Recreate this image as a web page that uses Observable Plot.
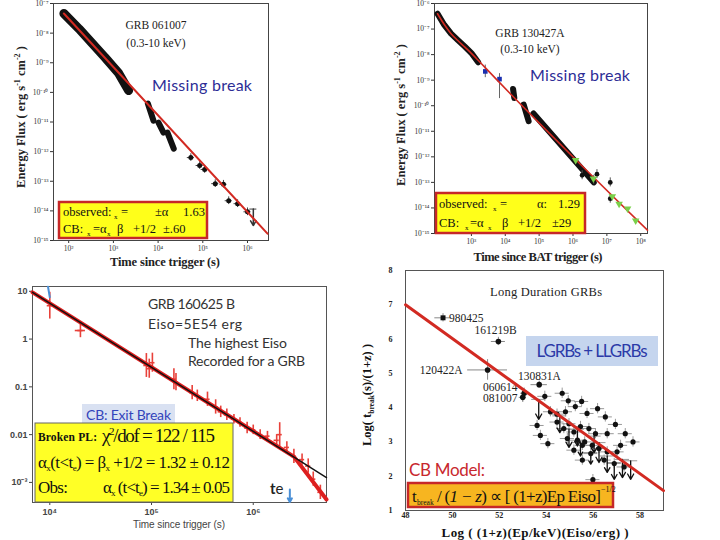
<!DOCTYPE html>
<html><head><meta charset="utf-8">
<script src="https://cdn.jsdelivr.net/npm/d3@7"></script>
<script src="https://cdn.jsdelivr.net/npm/@observablehq/plot@0.6"></script>
<style>
html,body{margin:0;padding:0;background:#fff;}
#wrap{position:relative;width:720px;height:540px;overflow:hidden;background:#fff;}
.panel{position:absolute;}
#overlay{position:absolute;left:0;top:0;z-index:5;pointer-events:none;}
.serif{font-family:"Liberation Serif","Times New Roman",serif;}
.sans{font-family:Lato,"Open Sans",sans-serif;}
</style></head>
<body>
<div id="wrap">
<div class="panel" id="pA" style="left:0;top:0"></div>
<div class="panel" id="pB" style="left:380px;top:0"></div>
<div class="panel" id="pC" style="left:0;top:270px"></div>
<div class="panel" id="pD" style="left:360px;top:260px"></div>
<svg id="overlay" width="720" height="540">
  <!-- Panel A : GRB 061007 -->
  <g class="serif" fill="#222">
    <text x="156" y="29" text-anchor="middle" font-size="11.5">GRB 061007</text>
    <text x="156" y="47" text-anchor="middle" font-size="11.5">(0.3-10 keV)</text>
    <text x="165" y="266" text-anchor="middle" font-size="12.5" font-weight="bold" textLength="110">Time since trigger (s)</text>
    <text transform="translate(25,117) rotate(-90)" text-anchor="middle" font-size="12.5" font-weight="bold">Energy Flux ( erg s<tspan dy="-5" font-size="8">-1</tspan><tspan dy="5"> cm</tspan><tspan dy="-5" font-size="8">-2</tspan><tspan dy="5"> )</tspan></text>
  </g>
  <text class="sans" x="152" y="91" font-size="16" fill="#2d2d96" textLength="100">Missing break</text>
  <rect x="59" y="202" width="148" height="36" fill="#ffff1a" stroke="#c62828" stroke-width="2.5"/>
  <g class="serif" font-size="12.5" fill="#111">
    <text x="63" y="216">observed:</text>
    <text x="114" y="219" font-size="7">x</text>
    <text x="121" y="216">=</text>
    <text x="155" y="216">±α</text>
    <text x="183" y="216">1.63</text>
    <text x="63" y="233">CB:</text>
    <text x="87" y="236" font-size="7">x</text>
    <text x="93" y="233">=α</text>
    <text x="107" y="236" font-size="7">x</text>
    <text x="117" y="233">β</text>
    <text x="133" y="233">+1/2</text>
    <text x="163" y="233">±.60</text>
  </g>

  <!-- Panel B : GRB 130427A -->
  <g class="serif" fill="#222">
    <text x="530" y="37" text-anchor="middle" font-size="11.5">GRB 130427A</text>
    <text x="530" y="53" text-anchor="middle" font-size="11.5">(0.3-10 keV)</text>
    <text x="538" y="261" text-anchor="middle" font-size="12.5" font-weight="bold" textLength="129">Time since BAT trigger (s)</text>
    <text transform="translate(405,115) rotate(-90)" text-anchor="middle" font-size="12.5" font-weight="bold">Energy Flux ( erg s<tspan dy="-5" font-size="8">-1</tspan><tspan dy="5"> cm</tspan><tspan dy="-5" font-size="8">-2</tspan><tspan dy="5"> )</tspan></text>
  </g>
  <text class="sans" x="530" y="81" font-size="16" fill="#2d2d96" textLength="100">Missing break</text>
  <rect x="436" y="193" width="149" height="40" fill="#ffff1a" stroke="#c62828" stroke-width="2.5"/>
  <g class="serif" font-size="12.5" fill="#111">
    <text x="439" y="208">observed:</text>
    <text x="493" y="211" font-size="7">x</text>
    <text x="500" y="208">=</text>
    <text x="537" y="208">α:</text>
    <text x="558" y="208">1.29</text>
    <text x="439" y="227">CB:</text>
    <text x="465" y="230" font-size="7">x</text>
    <text x="470" y="227">=α</text>
    <text x="488" y="230" font-size="7">x</text>
    <text x="502" y="227">β</text>
    <text x="518" y="227">+1/2</text>
    <text x="552" y="227">±29</text>
  </g>

  <!-- Panel C : GRB 160625B -->
  <g class="sans" fill="#333" font-size="14">
    <text x="148" y="309" textLength="87">GRB 160625 B</text>
    <text x="148" y="329" textLength="94">Eiso=5E54 erg</text>
    <text x="188" y="348" textLength="99">The highest Eiso</text>
    <text x="188" y="366" textLength="117">Recorded for a GRB</text>
  </g>
  <rect x="82" y="404" width="93" height="19" fill="#d9e1f2"/>
  <text class="sans" x="128.5" y="420" text-anchor="middle" font-size="14" fill="#3344bb" textLength="85">CB: Exit Break</text>
  <rect x="35" y="423" width="198" height="79" fill="#ffff26" stroke="#666" stroke-width="1"/>
  <g class="serif" fill="#111">
    <text x="38" y="441" font-size="11.5" font-weight="bold" textLength="59">Broken PL:</text>
    <text x="102" y="442" font-size="19" textLength="113">χ<tspan dy="-7" font-size="11">2</tspan><tspan dy="7">/dof = 122 / 115</tspan></text>
    <text x="38" y="468" font-size="17" textLength="192">α<tspan dy="3" font-size="9">x</tspan><tspan dy="-3">(t&lt;t</tspan><tspan dy="3" font-size="9">e</tspan><tspan dy="-3">) = β</tspan><tspan dy="3" font-size="9">x</tspan><tspan dy="-3"> +1/2 = 1.32 ± 0.12</tspan></text>
    <text x="38" y="493" font-size="17" textLength="30">Obs:</text>
    <text x="103" y="493" font-size="17" textLength="127">α<tspan dy="3" font-size="9">x</tspan><tspan dy="-3"> (t&lt;t</tspan><tspan dy="3" font-size="9">e</tspan><tspan dy="-3">) = 1.34 ± 0.05</tspan></text>
  </g>
  <text class="sans" x="270" y="494" font-size="15" fill="#222"><tspan font-weight="bold">t</tspan>e</text>
  <text x="179" y="528" text-anchor="middle" font-family="Liberation Sans, Arial, sans-serif" font-size="10" fill="#444" textLength="92">Time since trigger (s)</text>

  <!-- Panel D : Long duration GRBs -->
  <text class="serif" x="546" y="296" text-anchor="middle" font-size="12.5" fill="#222" textLength="112">Long Duration GRBs</text>
  <rect x="526" y="336" width="132" height="30" fill="#c5d5ee"/>
  <text class="sans" x="592" y="357" text-anchor="middle" font-size="17" fill="#2c3aa8" textLength="111">LGRBs + LLGRBs</text>
  <text class="sans" x="409" y="476" font-size="17" fill="#c8282e" textLength="76">CB Model:</text>
  <rect x="408" y="483" width="205" height="24" fill="#f7b520" stroke="#c62828" stroke-width="2.5"/>
  <g class="serif" fill="#111">
    <text x="412" y="502" font-size="17">t</text>
    <text x="417" y="505" font-size="7.5">break</text>
    <text x="437" y="502" font-size="17" textLength="164">/ (<tspan font-style="italic">1 − z</tspan>) ∝ [ (1+z)Ep Eiso]</text>
    <text x="601" y="492" font-size="8">−1/2</text>
  </g>
  <text class="serif" x="535" y="537" text-anchor="middle" font-size="13" font-weight="bold" fill="#111" textLength="187">Log ( (1+z)(Ep/keV)(Eiso/erg) )</text>
  <text class="serif" transform="translate(371,395) rotate(-90)" text-anchor="middle" font-size="12.5" font-weight="bold" fill="#111">Log( t<tspan dy="3" font-size="7.5">break</tspan><tspan dy="-3">(s)/(1+z) )</tspan></text>
</svg>
</div>
<script>
// ================= DATA =================
// Panel A: GRB 061007 (time s, energy flux erg/s/cm2)
const aBandTime = [78, 170, 330, 650, 1300, 2190];
const aBandFlux = [4.6e-8, 1.4e-8, 4.6e-9, 1.5e-9, 4.5e-10, 1.15e-10];
const aSegTime0 = [5900, 10200, 16200];
const aSegTime1 = [7900, 13200, 22400];
const aSegFlux0 = [4.2e-11, 9.5e-12, 4.4e-12];
const aSegFlux1 = [1.1e-11, 4.4e-12, 1.26e-12];
const aPtTime = [54000, 85000, 110000, 190000, 290000, 380000, 600000, 1.0e6];
const aPtFlux = [6.3e-13, 3.4e-13, 2.5e-13, 8.3e-14, 7.9e-14, 2.2e-14, 1.75e-14, 9.3e-15];
const aUlTime = [1.35e6];
const aUlFlux = [1.15e-14];
const aUlTo = [3.2e-15];
const aFitTime = [78, 2.8e6];
const aFitFlux = [4.6e-8, 1.7e-15];
const aTicksX = [1e2, 1e3, 1e4, 1e5, 1e6];
const aTicksY = [1e-15, 1e-14, 1e-13, 1e-12, 1e-11, 1e-10, 1e-9, 1e-8, 1e-7];

// Panel B: GRB 130427A
const bFitTime = [100, 158, 251, 398, 631, 1000, 1585, 2512, 1.58e8];
const bFitFlux = [3.98e-7, 1.51e-7, 6.6e-8, 3.55e-8, 2.0e-8, 1.12e-8, 6.0e-9, 3.16e-9, 1.35e-15];
const bBandTime = [100, 158, 251, 398, 631, 1000, 1585];
const bBandFlux = [3.98e-7, 1.45e-7, 6.6e-8, 3.7e-8, 2.1e-8, 1.15e-8, 5.0e-9];
const bSegTime0 = [17000, 35000, 68000];
const bSegTime1 = [18500, 49000, 4.1e6];
const bSegFlux0 = [4.5e-10, 1.1e-10, 5.0e-11];
const bSegFlux1 = [2.0e-10, 2.5e-11, 1.0e-13];
const bPtTime = [1.86e6, 4.1e6, 5.1e6, 1.26e7, 1.26e7];
const bPtFlux = [1.9e-13, 1.26e-13, 2.1e-13, 1.0e-13, 2.3e-14];
const bGreenTime = [1.2e6, 4.0e6, 1.45e7, 2.3e7, 4.1e7, 7.1e7];
const bGreenFlux = [7.4e-13, 1.4e-13, 2.8e-14, 1.45e-14, 9.3e-15, 3.2e-15];
const bBlueTime = [2570, 6760];
const bBlueFlux = [2.2e-9, 1.1e-9];
const bBlueLo = [1.25e-9, 1.9e-10];
const bBlueHi = [3.9e-9, 1.8e-9];
const bTicksX = [1e3, 1e4, 1e5, 1e6, 1e7, 1e8];
const bTicksY = [1e-15, 1e-14, 1e-13, 1e-12, 1e-11, 1e-10, 1e-9, 1e-8, 1e-7, 1e-6];

// Panel C: GRB 160625B
const cPtTime = [1.0e4, 2.0e4, 8.9e4, 9.5e4, 1.02e5, 1.66e5, 1.74e5, 2.51e5, 2.82e5, 3.55e5, 4.27e5, 4.79e5, 5.5e5, 6.46e5, 7.41e5, 8.71e5, 1.0e6, 1.17e6, 1.38e6, 1.7e6, 1.82e6, 2.14e6, 2.51e6, 3.02e6, 3.47e6, 3.89e6, 4.57e6];
const cPtFlux = [5.0, 1.51, 0.28, 0.24, 0.32, 0.145, 0.126, 0.076, 0.065, 0.055, 0.038, 0.030, 0.026, 0.021, 0.018, 0.0138, 0.0126, 0.010, 0.0093, 0.0076, 0.010, 0.0054, 0.0035, 0.0030, 0.0022, 0.00117, 0.00062];
const cErrDex = [0.28, 0.15, 0.25, 0.2, 0.2, 0.22, 0.18, 0.15, 0.12, 0.15, 0.15, 0.12, 0.12, 0.1, 0.1, 0.12, 0.1, 0.1, 0.1, 0.12, 0.25, 0.12, 0.15, 0.12, 0.15, 0.15, 0.15];
const cHBarTime0 = [1.78e4];
const cHBarTime1 = [2.24e4];
const cHBarFlux = [1.51];
const cPlFitTime = [6760, 5.25e6];
const cPlFitFlux = [9.5, 1.26e-3];
const cCbFitTime = [6760, 2.51e6, 5.25e6];
const cCbFitFlux = [9.5, 3.47e-3, 4.4e-4];
const cTeTime = [2.29e6];
const cTeFrom = [7.1e-4];
const cTeTo = [3.9e-4];
const cBlueTime = [9600, 1.0e4];
const cBlueFlux = [12.5, 7.5];
const cTicksX = [1e4, 1e5, 1e6];
const cTicksY = [1e-3, 0.01, 0.1, 1, 10];
const cTickLabelsY = ["10⁻³", "0.01", "0.1", "1", "10"];

// Panel D: Long duration GRBs (log energy, log t_break/(1+z))
const dNames = ["980425", "161219B", "120422A", "130831A", "060614", "081007"];
const dNamedX = [49.6, 51.96, 51.5, 53.7, 53.06, 53.0];
const dNamedY = [6.62, 5.93, 5.1, 4.67, 4.42, 4.3];
const dNamedXErr = [0.35, 0.3, 0.85, 0.35, 0.15, 0.15];
const dNamedYErr = [0.12, 0.12, 0.3, 0.1, 0.15, 0.15];
const dLabelX = [49.85, 51.84, 50.43, 52.8, 52.78, 52.78];
const dLabelY = [6.62, 6.25, 5.1, 4.92, 4.59, 4.26];
const dX = [53.94, 54.68, 54.94, 55.51, 54.18, 54.46, 54.82, 55.24, 55.74, 56.19, 56.52, 56.95, 57.37, 53.61, 53.75, 54.07, 54.46, 54.75, 54.97, 55.18, 55.46, 55.82, 56.1, 54.9, 55.33, 55.64, 55.96, 56.25, 56.6, 57.02, 57.17, 57.7, 55.18, 55.54, 55.9, 56.47, 56.9, 57.32, 55.99, 55.54, 56.6];
const dY = [4.33, 4.42, 4.2, 4.18, 3.88, 3.81, 3.88, 4.03, 3.83, 3.97, 3.73, 3.51, 3.24, 3.48, 3.19, 2.95, 3.58, 3.39, 3.53, 3.29, 3.45, 3.39, 3.24, 3.1, 3.05, 3.0, 2.9, 2.81, 2.71, 2.71, 2.9, 3.0, 2.76, 2.47, 2.66, 2.47, 2.37, 2.27, 1.9, 2.9, 3.24];
const dErrX = 0.3;
const dErrY = 0.15;
const dUlX = [53.68, 54.58, 54.97, 55.46, 55.9, 56.25, 56.6, 56.9, 57.25, 57.6, 56.04, 55.33];
const dUlTop = [4.24, 3.76, 3.37, 2.98, 2.69, 2.98, 2.59, 2.4, 2.49, 2.45, 3.17, 3.37];
const dUlBottom = [3.66, 3.27, 2.84, 2.59, 2.35, 2.4, 2.11, 1.91, 1.96, 1.91, 2.69, 2.88];
const dFitX = [48, 59];
const dFitY = [7.0, 1.58];
const dTicksX = [48, 50, 52, 54, 56, 58];
const dTicksY = [1, 2, 3, 4, 5, 6, 7, 8];

// ================= HELPERS =================
const supMap = {"-":"⁻","0":"⁰","1":"¹","2":"²","3":"³","4":"⁴","5":"⁵","6":"⁶","7":"⁷","8":"⁸","9":"⁹"};
const pow10 = d => "10" + String(Math.round(Math.log10(d))).split("").map(c => supMap[c]).join("");
const zip2 = (xs, ys) => xs.map((x, i) => ({x, y: ys[i]}));
const segs = (x0, x1, y0, y1) => x0.map((v, i) => ({x0: v, x1: x1[i], y0: y0[i], y1: y1[i]}));
const RED = "#d22a22";

// ================= PANEL A =================
{
  const band = zip2(aBandTime, aBandFlux);
  const sg = segs(aSegTime0, aSegTime1, aSegFlux0, aSegFlux1);
  const pts = zip2(aPtTime, aPtFlux);
  const ul = aUlTime.map((t, i) => ({x: t, y: aUlFlux[i], y2: aUlTo[i]}));
  const fit = zip2(aFitTime, aFitFlux);
  const chart = Plot.plot({
    width: 270, height: 270,
    marginLeft: 53, marginRight: 2, marginTop: 3, marginBottom: 30,
    style: {fontFamily: "Liberation Serif, serif", fontSize: "7.5px", color: "#333", background: "transparent"},
    x: {type: "log", domain: [45.7, 2.95e6], ticks: aTicksX, tickFormat: pow10, tickSize: 3, tickPadding: 2, label: null},
    y: {type: "log", domain: [1e-15, 1e-7], ticks: aTicksY, tickFormat: pow10, tickSize: 3, tickPadding: 2, label: null},
    marks: [
      Plot.frame({stroke: "#444"}),
      Plot.line(band, {x: "x", y: "y", stroke: "#111", strokeWidth: 9, strokeLinecap: "round"}),
      Plot.link(sg, {x1: "x0", y1: "y0", x2: "x1", y2: "y1", stroke: "#111", strokeWidth: 6, strokeLinecap: "round"}),
      Plot.ruleX(pts, {x: "x", y1: d => d.y / 1.35, y2: d => d.y * 1.35, stroke: "#444"}),
      Plot.ruleY(pts, {y: "y", x1: d => d.x / 1.2, x2: d => d.x * 1.2, stroke: "#444"}),
      Plot.dot(pts, {x: "x", y: "y", r: 2.5, fill: "#111"}),
      Plot.ruleY(ul, {y: "y", x1: d => d.x / 1.2, x2: d => d.x * 1.2, stroke: "#444"}),
      Plot.arrow(ul, {x1: "x", y1: "y", x2: "x", y2: "y2", stroke: "#333", headLength: 6}),
      Plot.line(fit, {x: "x", y: "y", stroke: RED, strokeWidth: 2})
    ]
  });
  document.getElementById("pA").append(chart);
}

// ================= PANEL B =================
{
  const fit = zip2(bFitTime, bFitFlux);
  const band = zip2(bBandTime, bBandFlux);
  const sg = segs(bSegTime0, bSegTime1, bSegFlux0, bSegFlux1);
  const pts = zip2(bPtTime, bPtFlux);
  const green = zip2(bGreenTime, bGreenFlux);
  const blue = bBlueTime.map((t, i) => ({x: t, y: bBlueFlux[i], lo: bBlueLo[i], hi: bBlueHi[i]}));
  const chart = Plot.plot({
    width: 290, height: 270,
    marginLeft: 54, marginRight: 23, marginTop: 3, marginBottom: 37,
    style: {fontFamily: "Liberation Serif, serif", fontSize: "7.5px", color: "#333", background: "transparent"},
    x: {type: "log", domain: [81.3, 1.585e8], ticks: bTicksX, tickFormat: pow10, tickSize: 3, tickPadding: 2, label: null},
    y: {type: "log", domain: [1e-15, 1e-6], ticks: bTicksY, tickFormat: pow10, tickSize: 3, tickPadding: 2, label: null},
    marks: [
      Plot.frame({stroke: "#444"}),
      Plot.line(band, {x: "x", y: "y", stroke: "#111", strokeWidth: 6, strokeLinecap: "round"}),
      Plot.link(sg, {x1: "x0", y1: "y0", x2: "x1", y2: "y1", stroke: "#111", strokeWidth: 6, strokeLinecap: "round"}),
      Plot.ruleX(blue, {x: "x", y1: "lo", y2: "hi", stroke: "#666"}),
      Plot.dot(blue, {x: "x", y: "y", symbol: "square", r: 2.6, fill: "#1a2fb0"}),
      Plot.ruleX(pts, {x: "x", y1: d => d.y / 1.5, y2: d => d.y * 1.5, stroke: "#555"}),
      Plot.dot(pts, {x: "x", y: "y", r: 2.4, fill: "#111"}),
      Plot.line(fit, {x: "x", y: "y", stroke: RED, strokeWidth: 1.6, curve: "monotone-x"}),
      Plot.dot(green, {x: "x", y: "y", symbol: "triangle", rotate: 180, r: 2.8, fill: "#7ad04a"})
    ]
  });
  document.getElementById("pB").append(chart);
}

// ================= PANEL C =================
{
  const pts = cPtTime.map((t, i) => ({x: t, y: cPtFlux[i], e: cErrDex[i]}));
  const hb = cHBarTime0.map((t, i) => ({x1: t, x2: cHBarTime1[i], y: cHBarFlux[i]}));
  const pl = zip2(cPlFitTime, cPlFitFlux);
  const cb = zip2(cCbFitTime, cCbFitFlux);
  const te = cTeTime.map((t, i) => ({x: t, y1: cTeFrom[i], y2: cTeTo[i]}));
  const blueL = zip2(cBlueTime, cBlueFlux);
  const labelOf = new Map(cTicksY.map((v, i) => [v, cTickLabelsY[i]]));
  const chart = Plot.plot({
    width: 340, height: 270,
    marginLeft: 32, marginRight: 14, marginTop: 16, marginBottom: 38,
    style: {fontFamily: "Liberation Sans, Arial, sans-serif", fontSize: "9px", fontWeight: "bold", color: "#444", background: "transparent"},
    x: {type: "log", domain: [6760, 5.25e6], ticks: cTicksX, tickFormat: pow10, tickSize: 3, tickPadding: 3, label: null},
    y: {type: "log", domain: [3.8e-4, 12.6], ticks: cTicksY, tickFormat: d => labelOf.get(d), tickSize: 3, tickPadding: 2, label: null},
    marks: [
      Plot.frame({stroke: "#555"}),
      Plot.ruleX(pts, {x: "x", y1: d => d.y / Math.pow(10, d.e), y2: d => d.y * Math.pow(10, d.e), stroke: "#e8413a", strokeWidth: 1.6}),
      Plot.ruleY(pts, {y: "y", x1: d => d.x / 1.06, x2: d => d.x * 1.06, stroke: "#e8413a", strokeWidth: 1.6}),
      Plot.ruleY(hb, {y: "y", x1: "x1", x2: "x2", stroke: "#e8413a", strokeWidth: 1.6}),
      Plot.line(cb, {x: "x", y: "y", stroke: "#dd1f1f", strokeWidth: 4}),
      Plot.line(pl, {x: "x", y: "y", stroke: "#111", strokeWidth: 1.4}),
      Plot.line(blueL, {x: "x", y: "y", stroke: "#4a8fd6", strokeWidth: 2, clip: false}),
      Plot.arrow(te, {x1: "x", y1: "y1", x2: "x", y2: "y2", stroke: "#4a8fd6", strokeWidth: 2, headLength: 7})
    ]
  });
  document.getElementById("pC").append(chart);
}

// ================= PANEL D =================
{
  const named = dNames.map((n, i) => ({name: n, x: dNamedX[i], y: dNamedY[i], ex: dNamedXErr[i], ey: dNamedYErr[i], lx: dLabelX[i], ly: dLabelY[i]}));
  const pts = zip2(dX, dY);
  const ul = dUlX.map((x, i) => ({x, y1: dUlTop[i], y2: dUlBottom[i]}));
  const fit = zip2(dFitX, dFitY);
  const anchorOf = {"980425": "start", "161219B": "middle", "120422A": "end", "130831A": "start", "060614": "end", "081007": "end"};
  const labelMark = anchor => Plot.text(named, {filter: d => anchorOf[d.name] === anchor, x: "lx", y: "ly", text: "name", textAnchor: anchor, fontSize: 11.5, fontWeight: "normal", fill: "#222"});
  const chart = Plot.plot({
    width: 360, height: 280,
    marginLeft: 45, marginRight: 57, marginTop: 10, marginBottom: 30,
    style: {fontFamily: "Liberation Serif, serif", fontSize: "8px", fontWeight: "bold", color: "#222", background: "transparent"},
    x: {domain: [48, 59], ticks: dTicksX, tickFormat: d => String(d), tickSize: 0, tickPadding: 2, label: null},
    y: {domain: [1, 8], ticks: dTicksY, tickFormat: d => String(d), tickSize: 0, tickPadding: 13, label: null},
    marks: [
      Plot.frame({stroke: "#555"}),
      Plot.ruleY(pts, {y: "y", x1: d => d.x - dErrX, x2: d => d.x + dErrX, stroke: "#999", strokeWidth: 1}),
      Plot.ruleX(pts, {x: "x", y1: d => d.y - dErrY, y2: d => d.y + dErrY, stroke: "#999", strokeWidth: 1}),
      Plot.ruleY(ul, {y: "y1", x1: d => d.x - dErrX, x2: d => d.x + dErrX, stroke: "#999", strokeWidth: 1}),
      Plot.arrow(ul, {x1: "x", y1: "y1", x2: "x", y2: "y2", stroke: "#111", strokeWidth: 1.3, headLength: 7}),
      Plot.dot(pts, {x: "x", y: "y", r: 2.6, fill: "#111"}),
      Plot.ruleY(named, {y: "y", x1: d => d.x - d.ex, x2: d => d.x + d.ex, stroke: "#888", strokeWidth: 1}),
      Plot.ruleX(named, {x: "x", y1: d => d.y - d.ey, y2: d => d.y + d.ey, stroke: "#888", strokeWidth: 1}),
      Plot.dot(named, {x: "x", y: "y", r: 2.8, fill: "#111", symbol: d => d.name === "980425" ? "square" : "circle"}),
      labelMark("start"), labelMark("middle"), labelMark("end"),
      Plot.line(fit, {x: "x", y: "y", stroke: RED, strokeWidth: 3})
    ]
  });
  document.getElementById("pD").append(chart);
}
</script>
</body></html>
